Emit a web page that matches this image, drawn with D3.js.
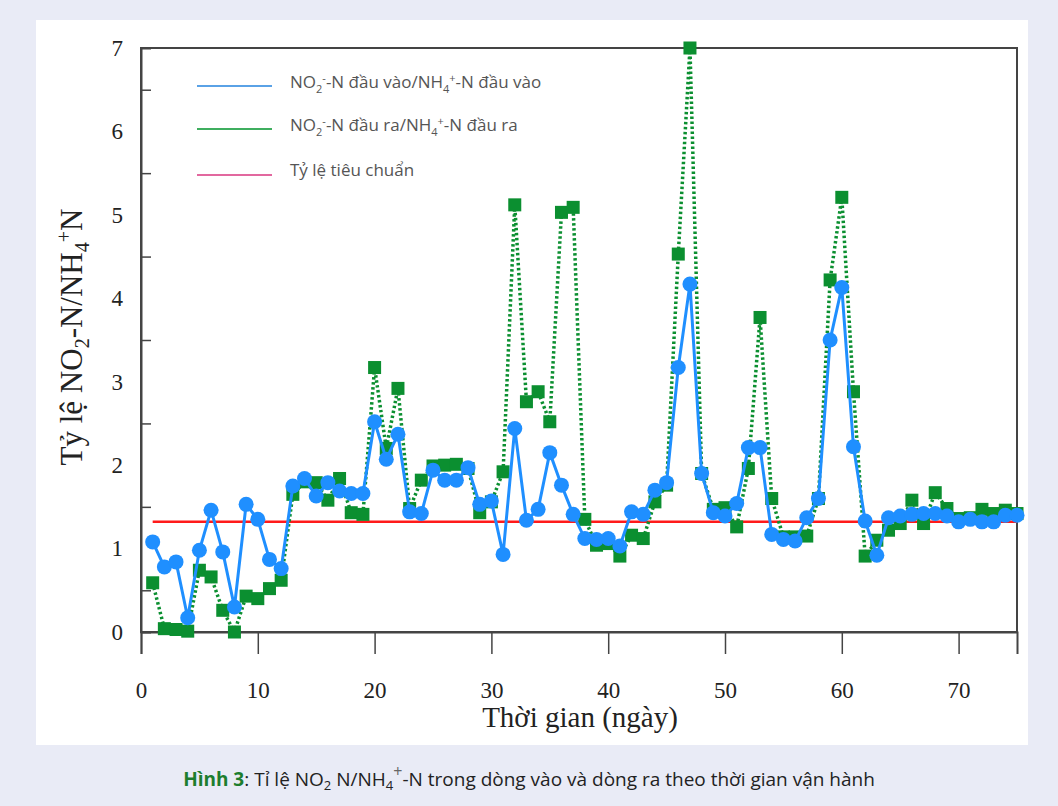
<!DOCTYPE html>
<html>
<head>
<meta charset="utf-8">
<script src="https://cdn.jsdelivr.net/npm/d3@7"></script>
<style>
  body { margin: 0; background: #e9ebf6; }
</style>
</head>
<body>
<div id="container"></div>
<script>
// days 1..75
let days = d3.range(1, 76);

// NO2-N / NH4-N, inflow (blue circles)
let inflow = [
  1.08, 0.78, 0.84, 0.17, 0.98, 1.46, 0.96, 0.30, 1.53, 1.35,
  0.87, 0.76, 1.75, 1.84, 1.63, 1.79, 1.69, 1.66, 1.66, 2.52,
  2.07, 2.37, 1.44, 1.42, 1.94, 1.82, 1.82, 1.97, 1.53, 1.57,
  0.93, 2.44, 1.34, 1.47, 2.15, 1.76, 1.41, 1.12, 1.11, 1.12,
  1.03, 1.44, 1.41, 1.70, 1.79, 3.17, 4.17, 1.90, 1.43, 1.39,
  1.54, 2.21, 2.21, 1.17, 1.11, 1.09, 1.37, 1.60, 3.50, 4.13,
  2.22, 1.33, 0.92, 1.37, 1.39, 1.41, 1.42, 1.42, 1.39, 1.32,
  1.35, 1.32, 1.32, 1.40, 1.40
];

// NO2-N / NH4-N, outflow (green squares)
let outflow = [
  0.59, 0.04, 0.03, 0.01, 0.74, 0.66, 0.26, 0.00, 0.43, 0.40,
  0.52, 0.62, 1.65, 1.80, 1.79, 1.58, 1.84, 1.43, 1.41, 3.17,
  2.20, 2.92, 1.48, 1.82, 1.99, 2.00, 2.01, 1.96, 1.43, 1.56,
  1.92, 5.12, 2.76, 2.88, 2.52, 5.03, 5.09, 1.35, 1.04, 1.06,
  0.91, 1.16, 1.12, 1.56, 1.76, 4.53, 7.00, 1.90, 1.47, 1.49,
  1.26, 1.96, 3.77, 1.60, 1.14, 1.14, 1.15, 1.60, 4.22, 5.21,
  2.88, 0.91, 1.10, 1.22, 1.30, 1.58, 1.30, 1.67, 1.48, 1.36,
  1.37, 1.47, 1.42, 1.46, 1.42
];

// standard ratio line
let standardDays = [1, 75];
let standardValue = 1.32;

let xTicks = [0, 10, 20, 30, 40, 50, 60, 70];
let yLabels = [0, 1, 2, 3, 4, 5, 6, 7];
let yTicks = [0.5, 1.5, 2.5, 3.5, 4.5, 5.5, 6.5];

let w = 1058;
let h = 806;
let plotLeft = 141, plotRight = 1017, plotTop = 48, plotBottom = 632;

let blue = "#1f8fff";
let green = "#0b8f30";
let red = "#ff1a1a";
let serif = "'Liberation Serif', 'DejaVu Serif', serif";

let viz = d3.select("#container")
  .append("svg")
  .attr("width", w)
  .attr("height", h);

viz.append("rect").attr("width", w).attr("height", h).attr("fill", "#e9ebf6");
viz.append("rect")
  .attr("x", 36).attr("y", 20)
  .attr("width", 992).attr("height", 725)
  .attr("fill", "white");

let xScale = d3.scaleLinear().domain([0, 75]).range([plotLeft, plotRight]);
let yScale = d3.scaleLinear().domain([0, 7]).range([plotBottom, plotTop]);

// frame
viz.append("rect")
  .attr("x", plotLeft).attr("y", plotTop)
  .attr("width", plotRight - plotLeft).attr("height", plotBottom - plotTop)
  .attr("fill", "none")
  .attr("stroke", "#444")
  .attr("stroke-width", 2);

// x axis
let xAxisGroup = viz.append("g")
  .attr("transform", "translate(0," + plotBottom + ")")
  .call(d3.axisBottom(xScale).tickValues(xTicks).tickSize(22).tickPadding(28));
xAxisGroup.select(".domain").attr("stroke", "#444").attr("stroke-width", 2);
xAxisGroup.selectAll(".tick line").attr("stroke", "#444").attr("stroke-width", 1.5);
xAxisGroup.selectAll("text")
  .attr("font-family", serif)
  .attr("font-size", 23)
  .attr("fill", "#222");

// y axis: inward ticks at half values, labels at integers (as in the original figure)
let yTickGroup = viz.append("g")
  .attr("transform", "translate(" + plotLeft + ",0)")
  .call(d3.axisLeft(yScale).tickValues(yTicks).tickSize(-10).tickFormat(""));
yTickGroup.select(".domain").attr("stroke", "#444").attr("stroke-width", 2);
yTickGroup.selectAll(".tick line").attr("stroke", "#444").attr("stroke-width", 1.5);

let yLabelGroup = viz.append("g")
  .attr("transform", "translate(" + plotLeft + ",0)")
  .call(d3.axisLeft(yScale).tickValues(yLabels).tickSize(0).tickPadding(18).tickFormat(d3.format("d")));
yLabelGroup.select(".domain").remove();
yLabelGroup.selectAll("text")
  .attr("font-family", serif)
  .attr("font-size", 23)
  .attr("fill", "#222");

// axis titles
viz.append("text")
  .attr("x", 580)
  .attr("y", 727)
  .attr("text-anchor", "middle")
  .attr("font-family", serif)
  .attr("font-size", 29)
  .attr("fill", "#222")
  .text("Thời gian (ngày)");

let yTitle = viz.append("text")
  .attr("transform", "translate(82,337) rotate(-90)")
  .attr("text-anchor", "middle")
  .attr("font-family", serif)
  .attr("font-size", 31)
  .attr("fill", "#222");
yTitle.append("tspan").text("Tỷ lệ NO");
yTitle.append("tspan").attr("font-size", 20).attr("dy", 7).text("2");
yTitle.append("tspan").attr("dy", -7).text("-N/NH");
yTitle.append("tspan").attr("font-size", 20).attr("dy", 7).text("4");
yTitle.append("tspan").attr("font-size", 20).attr("dy", -18).text("+");
yTitle.append("tspan").attr("dy", 11).text("N");

// standard line
viz.append("line")
  .attr("x1", xScale(standardDays[0]))
  .attr("x2", xScale(standardDays[1]))
  .attr("y1", yScale(standardValue))
  .attr("y2", yScale(standardValue))
  .attr("stroke", red)
  .attr("stroke-width", 2.5);

let outData = days.map(function (d, i) { return { day: d, v: outflow[i] }; });
let inData = days.map(function (d, i) { return { day: d, v: inflow[i] }; });

let line = d3.line()
  .x(function (d) { return xScale(d.day); })
  .y(function (d) { return yScale(d.v); });

// outflow: dotted green + squares
viz.append("path")
  .datum(outData)
  .attr("d", line)
  .attr("fill", "none")
  .attr("stroke", green)
  .attr("stroke-width", 3.5)
  .attr("stroke-dasharray", "2.5,2.5");

viz.selectAll(".sq")
  .data(outData)
  .enter()
  .append("rect")
  .attr("class", "sq")
  .attr("x", function (d) { return xScale(d.day) - 6.5; })
  .attr("y", function (d) { return yScale(d.v) - 6.5; })
  .attr("width", 13)
  .attr("height", 13)
  .attr("fill", green);

// inflow: solid blue + circles
viz.append("path")
  .datum(inData)
  .attr("d", line)
  .attr("fill", "none")
  .attr("stroke", blue)
  .attr("stroke-width", 3);

viz.selectAll(".dot")
  .data(inData)
  .enter()
  .append("circle")
  .attr("class", "dot")
  .attr("cx", function (d) { return xScale(d.day); })
  .attr("cy", function (d) { return yScale(d.v); })
  .attr("r", 7.5)
  .attr("fill", blue);

// legend
let legendColors = ["#5aa2e6", "#3fae5f", "#e2689f"];
let legendY = [86, 129, 175];
let legendFont = "'Open Sans', 'Noto Sans', sans-serif";

legendColors.forEach(function (c, i) {
  viz.append("line")
    .attr("x1", 197).attr("x2", 272)
    .attr("y1", legendY[i]).attr("y2", legendY[i])
    .attr("stroke", c)
    .attr("stroke-width", 2);
});

function legendText(y) {
  return viz.append("text")
    .attr("x", 290)
    .attr("y", y)
    .attr("font-family", legendFont)
    .attr("font-size", 17)
    .attr("fill", "#555");
}

let l1 = legendText(legendY[0] + 2);
l1.append("tspan").text("NO");
l1.append("tspan").attr("font-size", 11).attr("dy", 5).text("2");
l1.append("tspan").attr("font-size", 11).attr("dy", -11).text("-");
l1.append("tspan").attr("dy", 6).text("-N đầu vào/NH");
l1.append("tspan").attr("font-size", 11).attr("dy", 5).text("4");
l1.append("tspan").attr("font-size", 11).attr("dy", -11).text("+");
l1.append("tspan").attr("dy", 6).text("-N đầu vào");

let l2 = legendText(legendY[1] + 2);
l2.append("tspan").text("NO");
l2.append("tspan").attr("font-size", 11).attr("dy", 5).text("2");
l2.append("tspan").attr("font-size", 11).attr("dy", -11).text("-");
l2.append("tspan").attr("dy", 6).text("-N đầu ra/NH");
l2.append("tspan").attr("font-size", 11).attr("dy", 5).text("4");
l2.append("tspan").attr("font-size", 11).attr("dy", -11).text("+");
l2.append("tspan").attr("dy", 6).text("-N đầu ra");

legendText(legendY[2] + 1).text("Tỷ lệ tiêu chuẩn");

// caption
let cap = viz.append("text")
  .attr("x", w / 2)
  .attr("y", 786)
  .attr("text-anchor", "middle")
  .attr("font-family", legendFont)
  .attr("font-size", 19)
  .attr("fill", "#222");
cap.append("tspan").attr("font-weight", "bold").attr("fill", "#1d7d2e").text("Hình 3");
cap.append("tspan").text(": Tỉ lệ NO");
cap.append("tspan").attr("font-size", 13).attr("dy", 4).text("2");
cap.append("tspan").attr("dy", -4).text(" N/NH");
cap.append("tspan").attr("font-size", 13).attr("dy", 4).text("4");
cap.append("tspan").attr("font-size", 16).attr("dy", -13).attr("fill", "#666").text("+");
cap.append("tspan").attr("dy", 9).text("-N trong dòng vào và dòng ra theo thời gian vận hành");
</script>
</body>
</html>
